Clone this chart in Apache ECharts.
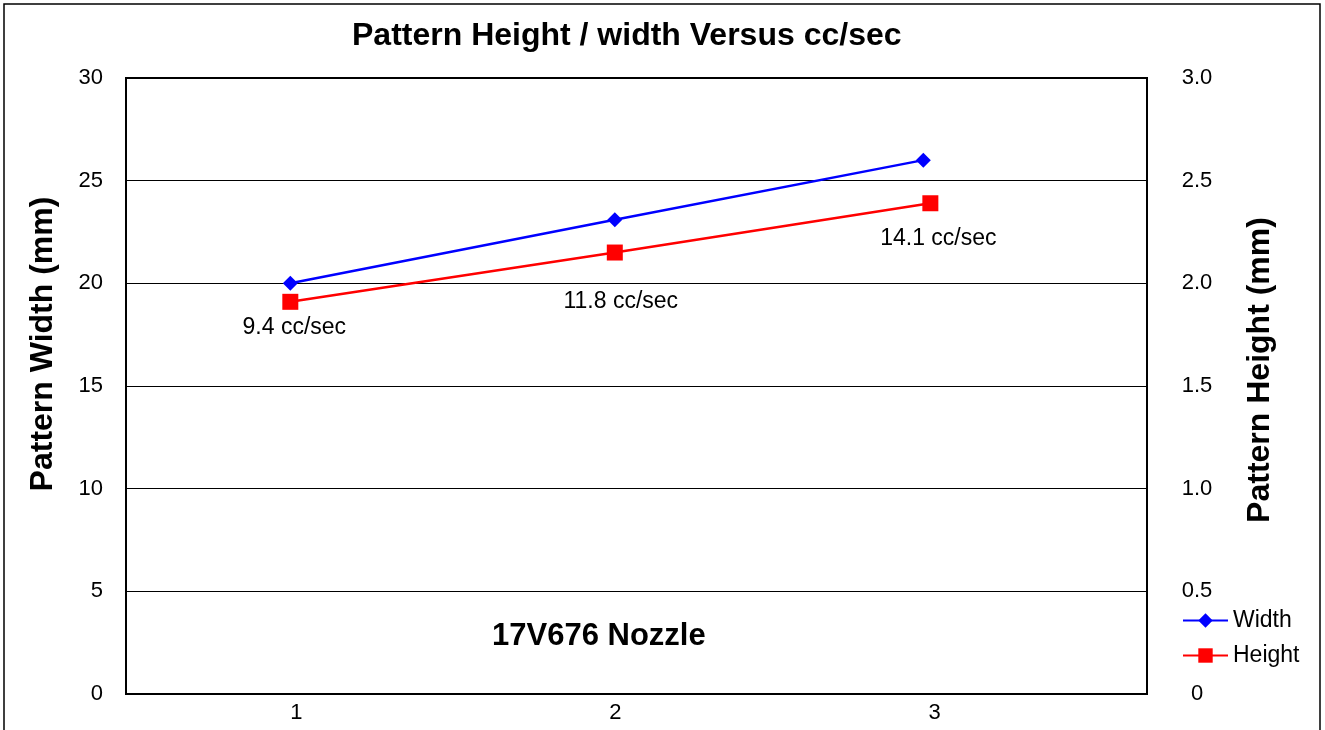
<!DOCTYPE html>
<html>
<head>
<meta charset="utf-8">
<script src="https://cdn.jsdelivr.net/npm/echarts@6/dist/echarts.min.js"></script>
<style>
html,body{margin:0;padding:0;background:#fff;}
#c{width:1325px;height:730px;}
</style>
</head>
<body>
<div id="c"></div>
<script>
const xTicks = [1, 2, 3];
const widthX = [0.981, 1.998, 2.965];
const widthVals = [20.0, 23.1, 26.0];
const heightX = [0.981, 1.998, 2.987];
const heightVals = [1.91, 2.15, 2.39];
const flowLabels = ['9.4 cc/sec', '11.8 cc/sec', '14.1 cc/sec'];
const labelOffsets = [[4, 1], [6, 25], [8, 11]];

const FONT = '"Liberation Sans", Arial, Helvetica, sans-serif';
const chart = echarts.init(document.getElementById('c'));
chart.setOption({
  backgroundColor: '#fff',
  animation: false,
  textStyle: { fontFamily: FONT, color: '#000' },
  title: [
    { text: 'Pattern Height / width Versus cc/sec', left: 347, top: 15,
      textStyle: { fontFamily: FONT, fontSize: 32, fontWeight: 'bold', color: '#000' } },
    { text: '17V676 Nozzle', left: 487, top: 616,
      textStyle: { fontFamily: FONT, fontSize: 31, fontWeight: 'bold', color: '#000' } }
  ],
  graphic: [{
    type: 'rect', shape: { x: 4, y: 4, width: 1316, height: 760 },
    style: { fill: 'none', stroke: '#000', lineWidth: 1.5 }, silent: true, z: -1
  }],
  legend: {
    orient: 'vertical', left: 1177, top: 604, itemWidth: 45, itemHeight: 18, itemGap: 12,
    textStyle: { fontFamily: FONT, fontSize: 23, color: '#000' },
    data: ['Width', 'Height']
  },
  grid: { left: 126, right: 178, top: 78, bottom: 36, show: true, borderColor: '#000', borderWidth: 2 },
  xAxis: {
    type: 'value', min: 0.466, max: 3.666,
    splitLine: { show: false }, axisTick: { show: false },
    axisLine: { show: true, lineStyle: { color: '#000', width: 2 } },
    axisLabel: { customValues: xTicks, fontSize: 22, color: '#000', margin: 8, fontFamily: FONT }
  },
  yAxis: [
    {
      type: 'value', min: 0, max: 30, interval: 5, position: 'left',
      name: 'Pattern Width (mm)', nameLocation: 'middle', nameGap: 67, nameRotate: 90,
      nameTextStyle: { fontSize: 32, fontWeight: 'bold', color: '#000', fontFamily: FONT, padding: [0, 0, 0, 84] },
      axisLine: { show: true, lineStyle: { color: '#000', width: 2 } }, axisTick: { show: false },
      axisLabel: { fontSize: 22, color: '#000', margin: 23, fontFamily: FONT },
      splitLine: { show: true, lineStyle: { color: '#000', width: 1.2 } }
    },
    {
      type: 'value', min: 0, max: 3, interval: 0.5, position: 'right',
      name: 'Pattern Height (mm)', nameLocation: 'middle', nameGap: 97, nameRotate: 90,
      nameTextStyle: { fontSize: 32, fontWeight: 'bold', color: '#000', fontFamily: FONT, padding: [0, 0, 0, 32] },
      axisLine: { show: true, lineStyle: { color: '#000', width: 2 } }, axisTick: { show: false },
      axisLabel: { fontSize: 22, color: '#000', margin: 50, align: 'center', fontFamily: FONT,
        formatter: v => v === 0 ? '0' : v.toFixed(1) },
      splitLine: { show: false }
    }
  ],
  series: [
    {
      name: 'Width', type: 'line', yAxisIndex: 0,
      data: widthX.map((x, i) => [x, widthVals[i]]),
      symbol: 'diamond', symbolSize: 15,
      lineStyle: { color: '#0000FF', width: 2.5 }, itemStyle: { color: '#0000FF' }
    },
    {
      name: 'Height', type: 'line', yAxisIndex: 1,
      data: heightX.map((x, i) => ({
        value: [x, heightVals[i]],
        label: { show: true, position: 'bottom', formatter: flowLabels[i], offset: labelOffsets[i],
          fontSize: 23, color: '#000', fontFamily: FONT }
      })),
      symbol: 'rect', symbolSize: 16,
      lineStyle: { color: '#FF0000', width: 2.5 }, itemStyle: { color: '#FF0000' }
    }
  ]
});
</script>
</body>
</html>
